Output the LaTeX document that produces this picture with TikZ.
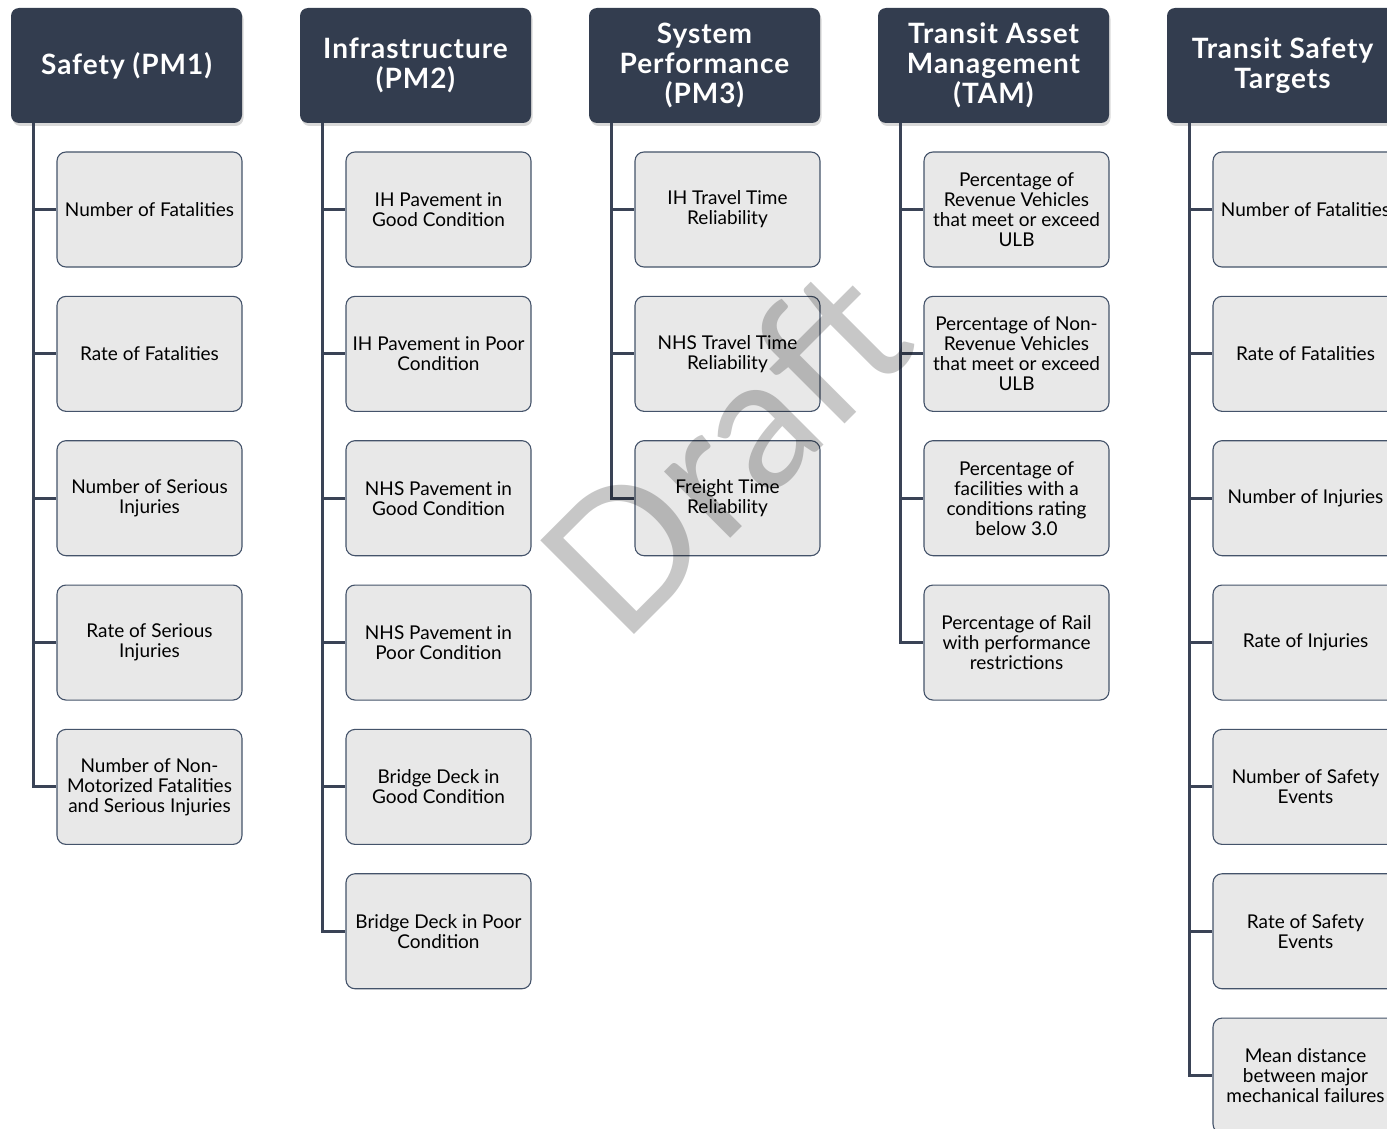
\documentclass[tikz,border=0pt]{standalone}
\usepackage{fontspec}
\setmainfont{Lato}
\newfontfamily\hdrfont[LetterSpace=3.5]{Lato}
\usetikzlibrary{shadows,calc}
\definecolor{hdr}{HTML}{333D4F}
\definecolor{trunkc}{HTML}{3A4356}
\definecolor{boxfill}{HTML}{E8E8E8}
\definecolor{boxline}{HTML}{44536A}
\tikzset{
 hdrbox/.style={fill=hdr, rounded corners=8pt, minimum width=231pt, minimum height=115pt,
   text=white, font=\hdrfont\bfseries\fontsize{28}{30}\selectfont, align=center, inner sep=0pt,
   drop shadow={opacity=0.3, shadow xshift=1.5pt, shadow yshift=-3pt}},
 itembox/.style={fill=boxfill, draw=boxline, line width=1.1pt, rounded corners=9pt,
   minimum width=185pt, minimum height=115pt, align=center,
   font=\fontsize{19}{20}\selectfont, inner sep=0pt, text=black},
 conn/.style={draw=trunkc, line width=3pt},
 wmark/.style={rotate=45, text=black, opacity=0.22, font=\fontsize{185}{185}\selectfont, inner sep=0pt}
}
\newcommand\HdrNode[3]{%
  \node[hdrbox] (#1) at (#2+115.5,65.5) {#3};
  \coordinate (#1t) at ([xshift=23pt]#1.south west);}
\newcommand\ItemNode[5]{% name, head, header-left, index, text
  \node[itembox] (#1) at (#3+138.5,209.5+144.35*#4) {#5};
  \draw[conn] (#2t) |- (#1.west);}
\begin{document}
\begin{tikzpicture}[x=1pt,y=-1pt]
\useasboundingbox (0,0) rectangle (1387,1129);
\clip (0,0) rectangle (1387,1129);
% column 1
\HdrNode{h1}{11}{Safety (PM1)}
\ItemNode{a1}{h1}{11}{0}{Number of Fatalities}
\ItemNode{a2}{h1}{11}{1}{Rate of Fatalities}
\ItemNode{a3}{h1}{11}{2}{Number of Serious\\Injuries}
\ItemNode{a4}{h1}{11}{3}{Rate of Serious\\Injuries}
\ItemNode{a5}{h1}{11}{4}{Number of Non-\\Motorized Fatalities\\and Serious Injuries}
% column 2
\HdrNode{h2}{300}{Infrastructure\\(PM2)}
\ItemNode{b1}{h2}{300}{0}{IH Pavement in\\Good Condition}
\ItemNode{b2}{h2}{300}{1}{IH Pavement in Poor\\Condition}
\ItemNode{b3}{h2}{300}{2}{NHS Pavement in\\Good Condition}
\ItemNode{b4}{h2}{300}{3}{NHS Pavement in\\Poor Condition}
\ItemNode{b5}{h2}{300}{4}{Bridge Deck in\\Good Condition}
\ItemNode{b6}{h2}{300}{5}{Bridge Deck in Poor\\Condition}
% column 3
\HdrNode{h3}{589}{System\\Performance\\(PM3)}
\ItemNode{c1}{h3}{589}{0}{IH Travel Time\\Reliability}
\ItemNode{c2}{h3}{589}{1}{NHS Travel Time\\Reliability}
\ItemNode{c3}{h3}{589}{2}{Freight Time\\Reliability}
% column 4
\HdrNode{h4}{878}{Transit Asset\\Management\\(TAM)}
\ItemNode{d1}{h4}{878}{0}{Percentage of\\Revenue Vehicles\\that meet or exceed\\ULB}
\ItemNode{d2}{h4}{878}{1}{Percentage of Non-\\Revenue Vehicles\\that meet or exceed\\ULB}
\ItemNode{d3}{h4}{878}{2}{Percentage of\\facilities with a\\conditions rating\\below 3.0}
\ItemNode{d4}{h4}{878}{3}{Percentage of Rail\\with performance\\restrictions}
% column 5
\HdrNode{h5}{1167}{Transit Safety\\Targets}
\ItemNode{e1}{h5}{1167}{0}{Number of Fatalities}
\ItemNode{e2}{h5}{1167}{1}{Rate of Fatalities}
\ItemNode{e3}{h5}{1167}{2}{Number of Injuries}
\ItemNode{e4}{h5}{1167}{3}{Rate of Injuries}
\ItemNode{e5}{h5}{1167}{4}{Number of Safety\\Events}
\ItemNode{e6}{h5}{1167}{5}{Rate of Safety\\Events}
\ItemNode{e7}{h5}{1167}{6}{Mean distance\\between major\\mechanical failures}
% watermark
\node[wmark] (wm) at (725,450) {Draft};
\end{tikzpicture}
\end{document}
